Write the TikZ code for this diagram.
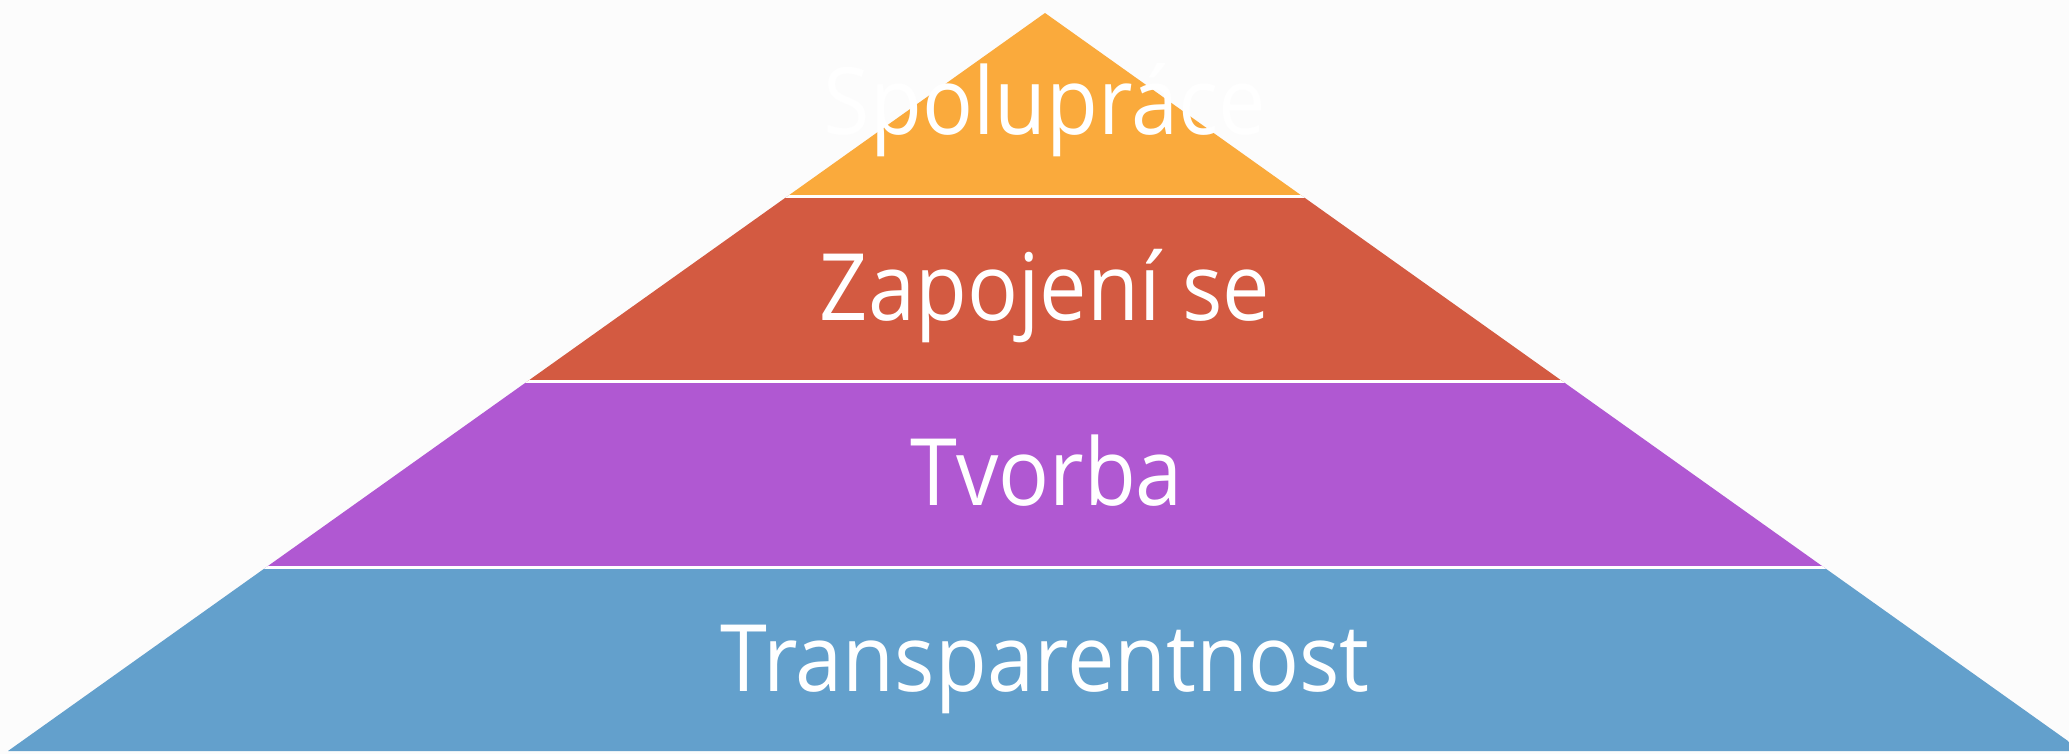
\documentclass[tikz,border=0pt]{standalone}
\usepackage{fontspec}
\setmainfont{Open Sans}
\definecolor{bgc}{RGB}{252,252,252}
\definecolor{corange}{RGB}{250,170,60}
\definecolor{cred}{RGB}{211,90,65}
\definecolor{cpurple}{RGB}{176,88,210}
\definecolor{cblue}{RGB}{99,160,204}
\newcommand{\sq}[1]{\scalebox{0.91}[1]{#1}}
\begin{document}
\begin{tikzpicture}[x=1bp,y=-1bp,
  lbl/.style={text=white,font=\fontsize{93bp}{110bp}\selectfont,anchor=base,inner sep=0pt},
  sep/.style={white,line width=3bp}]
\useasboundingbox (0,0) rectangle (2069,754);
\fill[bgc] (0,0) rectangle (2069,754);
\begin{scope}
  \clip (0,0) rectangle (2069,754);
  \clip (1045,13) -- (8,751) -- (2082,751) -- cycle;
  \fill[corange] (0,0) rectangle (2069,196);
  \fill[cred] (0,196) rectangle (2069,381.5);
  \fill[cpurple] (0,381.5) rectangle (2069,567.5);
  \fill[cblue] (0,567.5) rectangle (2069,754);
  \draw[sep] (0,196) -- (2069,196);
  \draw[sep] (0,381.5) -- (2069,381.5);
  \draw[sep] (0,567.5) -- (2069,567.5);
\end{scope}
\node[lbl] (spolu) at (1045,134) {\sq{Spolupráce}};
\node[lbl] (zapoj) at (1045,320) {\sq{Zapojení se}};
\node[lbl] (tvorba) at (1047,505) {\sq{Tvorba}};
\node[lbl] (transp) at (1045,691) {\sq{Transparentnost}};
\end{tikzpicture}
\end{document}
